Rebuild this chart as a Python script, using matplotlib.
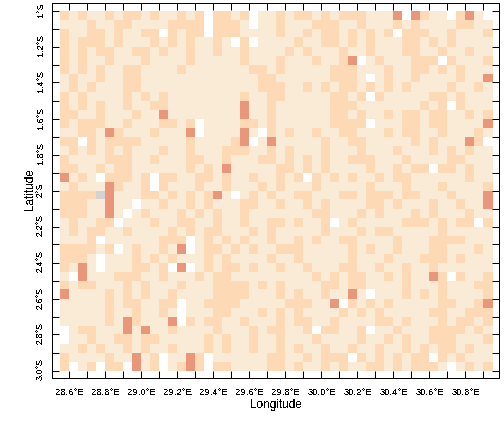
import numpy as np
import matplotlib
matplotlib.use("Agg")
import matplotlib.pyplot as plt
from matplotlib.colors import ListedColormap, BoundaryNorm
from matplotlib.ticker import FixedLocator
from matplotlib.transforms import ScaledTranslation

# class codes: 0 white, 1 light, 2 peach, 3 salmon, 4 grey (no data)
rows = [
"2 1 2 1 1 2 1 2 2 1 2 1 1 2 1 2 0 2 2 1 2 0 1 1 2 1 2 2 1 2 1 2 2 2 1 1 1 3 0 3 2 1 1 0 2 3 1 0",
"1 1 1 2 1 1 2 2 1 1 1 1 2 2 2 2 0 2 2 2 1 0 1 1 2 1 1 1 2 2 2 1 1 2 1 1 1 2 1 2 1 1 1 1 2 2 1 1",
"2 1 1 2 2 1 2 1 1 2 2 0 2 1 2 2 0 2 2 2 1 1 1 1 2 1 1 2 1 2 2 1 2 1 2 1 2 0 2 2 2 1 1 2 1 1 1 2",
"2 1 2 2 2 1 2 1 1 1 2 1 2 1 2 1 1 2 1 0 2 0 1 1 1 1 2 1 1 2 2 1 2 1 2 1 1 1 2 2 1 2 1 2 1 1 1 1",
"2 1 2 1 2 2 1 1 2 2 1 2 1 1 2 1 1 2 1 1 2 1 1 1 1 2 1 2 1 1 1 2 1 1 2 1 1 1 2 2 1 1 2 1 1 2 1 1",
"2 1 2 1 1 2 1 1 1 2 1 1 1 1 2 1 1 1 1 1 2 1 1 1 2 1 1 1 2 1 1 2 3 0 1 2 1 1 1 2 2 2 0 2 1 1 1 2",
"2 1 2 1 2 1 1 2 2 1 1 1 1 2 1 1 1 1 1 1 1 2 2 1 2 1 1 1 1 1 2 2 2 1 1 1 2 1 1 2 2 1 2 1 2 1 1 1",
"1 2 1 1 2 1 1 2 2 1 1 1 1 1 1 1 1 1 1 1 1 1 2 2 1 1 1 1 1 1 2 2 2 1 0 1 2 1 1 2 1 1 1 1 2 1 1 3",
"1 2 1 2 1 1 1 2 2 1 1 1 1 1 1 1 1 1 1 1 1 1 2 2 2 1 1 2 1 2 1 2 2 1 2 1 2 1 2 1 1 1 1 2 1 1 2 1",
"2 1 2 1 1 1 1 2 1 2 1 2 1 1 1 1 1 1 1 1 2 1 1 2 2 1 1 1 1 1 2 2 1 2 0 2 1 1 1 1 1 2 2 1 2 1 1 1",
"2 1 2 1 2 1 1 2 1 1 2 2 1 1 1 1 1 1 1 1 3 1 1 2 1 1 1 1 1 1 2 2 2 1 1 1 1 1 1 1 2 1 2 0 2 1 1 1",
"2 2 1 1 2 1 1 1 2 1 1 3 1 1 1 1 1 1 1 1 3 1 1 2 1 1 1 1 1 1 2 2 1 2 1 1 2 1 2 2 1 2 2 1 1 2 1 2",
"2 1 2 2 2 1 1 2 1 1 1 2 2 1 2 0 1 1 1 1 2 2 1 2 1 1 1 1 1 1 2 2 2 2 0 1 1 1 2 2 1 2 2 1 1 1 1 3",
"1 1 2 2 1 3 2 1 1 1 2 1 1 1 3 0 1 1 1 1 3 1 0 2 1 2 1 1 2 1 1 2 2 1 1 1 2 1 2 2 1 1 2 1 1 1 2 1",
"2 2 0 2 1 2 2 2 2 1 1 1 1 1 2 1 1 1 1 2 3 0 1 3 1 1 1 1 1 2 1 1 2 2 1 1 1 1 1 2 1 2 1 1 1 3 2 0",
"1 2 1 2 1 2 1 2 1 1 1 2 1 1 2 1 1 1 2 2 2 1 1 2 1 2 1 1 1 2 1 1 1 2 1 1 1 2 1 1 1 2 1 2 1 2 1 1",
"2 1 1 1 1 2 2 2 1 1 2 1 1 1 2 2 1 1 2 1 1 1 2 2 1 2 1 2 1 2 1 1 2 2 2 1 1 1 2 1 1 1 1 2 2 1 1 1",
"2 2 1 1 2 1 2 2 1 1 1 1 1 1 2 1 2 1 3 1 1 1 1 1 2 2 1 2 1 2 1 1 1 1 2 1 1 2 1 2 2 0 2 2 1 2 1 1",
"3 1 2 1 0 2 2 2 1 2 0 2 2 1 1 2 2 1 2 1 1 2 1 1 2 1 2 0 2 1 2 1 2 1 1 2 1 2 2 1 1 1 1 1 1 2 1 1",
"1 2 1 1 1 3 2 1 1 2 0 2 1 1 1 2 1 1 2 1 1 1 2 1 2 1 1 1 2 1 1 1 1 1 2 1 1 1 2 1 1 1 2 1 1 1 1 2",
"2 2 2 2 4 3 1 1 1 2 2 1 2 1 2 1 2 3 1 0 1 2 1 2 1 1 2 2 1 1 1 2 2 1 2 2 2 1 2 2 1 1 1 2 1 1 1 3",
"2 2 2 1 1 3 1 1 0 1 1 2 1 1 2 1 2 1 1 1 2 2 1 1 2 1 1 2 1 2 1 1 1 1 2 2 1 2 1 1 1 2 1 1 2 1 1 3",
"2 2 2 1 1 3 1 0 1 2 1 1 1 2 1 2 1 2 1 1 2 1 1 1 1 1 1 1 2 2 1 1 1 2 1 2 1 1 1 2 1 2 1 1 1 2 1 1",
"1 2 1 1 2 2 0 1 1 1 2 1 1 2 2 1 1 2 1 1 2 1 1 2 2 1 2 1 1 2 0 1 2 1 1 1 1 1 2 2 2 1 2 1 2 2 0 2",
"1 2 1 2 2 1 1 2 1 1 1 1 2 1 2 1 2 2 1 1 1 2 1 2 1 1 1 1 1 2 1 1 1 2 1 2 2 1 1 1 1 1 2 1 1 1 1 1",
"1 1 1 2 0 1 1 1 1 1 1 2 2 2 0 1 2 1 2 1 2 1 1 2 1 1 2 1 2 1 1 2 2 1 1 1 1 2 1 1 1 2 2 2 2 1 1 1",
"2 2 2 2 1 2 0 1 2 1 1 2 1 3 0 1 2 2 1 2 1 2 1 1 2 2 2 1 1 1 1 1 2 1 2 1 1 2 1 1 1 2 2 1 1 1 2 1",
"2 2 2 1 0 1 1 1 2 1 2 1 2 1 1 1 2 1 2 1 1 1 1 2 1 1 2 1 1 1 1 1 2 1 1 1 2 1 1 1 2 2 2 1 2 1 1 1",
"2 1 3 1 0 1 1 1 2 2 1 2 0 3 0 1 2 1 2 2 1 2 1 1 2 1 1 2 1 1 1 2 2 1 1 2 1 1 2 1 1 2 1 1 1 1 1 1",
"1 0 3 1 1 1 2 2 2 1 1 2 1 1 1 2 1 2 2 1 1 1 1 1 1 1 1 1 2 1 2 1 2 2 1 1 2 1 2 1 1 3 2 0 2 1 1 2",
"2 1 2 2 1 1 1 2 1 2 1 1 1 2 1 1 1 2 2 2 2 1 2 1 2 1 1 1 1 2 2 1 2 2 1 1 1 1 2 1 1 1 2 1 1 1 2 2",
"3 1 1 1 1 2 1 2 1 2 1 1 2 1 1 1 1 2 2 2 2 1 1 1 2 1 2 1 1 2 1 1 3 1 0 1 1 1 2 1 2 1 2 1 1 1 1 2",
"1 1 1 1 1 2 1 2 2 1 1 2 2 0 1 1 2 2 2 2 1 1 1 1 1 2 2 2 1 1 3 0 2 1 2 1 2 1 1 1 1 1 2 2 1 1 2 3",
"1 1 1 1 1 2 1 1 2 1 1 2 1 0 1 1 1 2 2 1 1 1 2 1 2 1 2 1 1 1 1 2 1 2 1 2 1 1 1 1 1 2 2 1 1 2 2 2",
"1 1 1 1 1 2 1 3 2 1 1 1 3 0 2 1 2 2 1 1 2 1 1 1 2 1 2 2 1 1 2 1 1 1 1 2 2 1 2 1 1 1 2 1 2 2 1 2",
"0 1 2 2 1 1 1 3 1 3 1 1 2 1 1 1 1 2 1 1 1 2 1 2 2 1 1 2 0 2 2 1 1 2 0 1 1 2 1 1 1 2 2 2 2 1 2 1",
"0 1 1 2 1 1 2 2 1 2 2 1 1 1 1 1 2 1 2 1 1 2 1 1 2 1 1 1 2 1 1 1 1 2 1 1 2 1 2 1 1 2 2 2 1 1 1 2",
"1 1 2 1 2 1 1 2 1 2 1 1 2 1 1 1 2 1 2 1 1 2 1 1 2 1 2 1 1 2 1 1 2 1 1 2 1 1 2 1 2 1 2 2 1 2 1 1",
"2 1 1 1 1 2 1 1 3 1 2 0 1 1 3 2 0 1 1 1 1 1 1 2 2 1 1 2 1 2 2 2 0 2 1 2 1 2 1 2 2 0 2 1 2 1 1 1",
"2 0 1 2 0 2 2 0 3 1 2 0 1 2 3 2 0 2 2 1 1 1 1 2 2 1 2 1 1 2 1 2 1 1 2 2 1 2 1 2 2 2 1 0 1 2 1 2",
]
lon_edges = np.arange(49) * 0.05 + 28.55
lat_edges = -1.0 - np.arange(41) * 0.05
x_major = [28.6, 28.8, 29.0, 29.2, 29.4, 29.6, 29.8, 30.0, 30.2, 30.4, 30.6, 30.8]
x_minor = [28.7, 28.9, 29.1, 29.3, 29.5, 29.7, 29.9, 30.1, 30.3, 30.5, 30.7, 30.9]
y_major = [-1.0, -1.2, -1.4, -1.6, -1.8, -2.0, -2.2, -2.4, -2.6, -2.8, -3.0]
y_minor = [-1.1, -1.3, -1.5, -1.7, -1.9, -2.1, -2.3, -2.5, -2.7, -2.9]
x_labels = ["28.6°E", "28.8°E", "29.0°E", "29.2°E", "29.4°E", "29.6°E", "29.8°E", "30.0°E", "30.2°E", "30.4°E", "30.6°E", "30.8°E"]
y_labels = ["1°S", "1.2°S", "1.4°S", "1.6°S", "1.8°S", "2°S", "2.2°S", "2.4°S", "2.6°S", "2.8°S", "3.0°S"]
colors = ["#FFFFFF", "#FAEBD7", "#FDD9B5", "#E9967A", "#D3D3D3"]

plt.rcParams["font.family"] = ["Liberation Sans", "DejaVu Sans"]
plt.rcParams["text.antialiased"] = False

grid = np.array([[int(v) for v in r.split()] for r in rows])
W, H = 504, 431
fig = plt.figure(figsize=(W / 100, H / 100), dpi=100)
L, R, T, B = 52.0, 499.5, 3.5, 378.5
ax = fig.add_axes([L / W, 1 - B / H, (R - L) / W, (B - T) / H])
ax.pcolormesh(lon_edges, lat_edges, grid, cmap=ListedColormap(colors),
              norm=BoundaryNorm(np.arange(-0.5, 5.5), 5), antialiased=False, linewidth=0)
ax.set_xlim(28.6 - (69.5 - L) / 180, 28.6 + (R - 69.5) / 180)
ax.set_ylim(-1.0 - (B - 11.5) / 180, -1.0 + (11.5 - T) / 180)

ax.xaxis.set_major_locator(FixedLocator(x_major))
ax.xaxis.set_minor_locator(FixedLocator(x_minor))
ax.yaxis.set_major_locator(FixedLocator(y_major))
ax.yaxis.set_minor_locator(FixedLocator(y_minor))
ax.set_xticklabels(x_labels, fontsize=6.8)
ax.set_yticklabels(y_labels, fontsize=6.5, rotation=90, va="center")
ax.tick_params(which="both", direction="in", length=5.0, width=0.72,
               top=True, right=True, color="black")
ax.tick_params(axis="x", which="major", pad=7)
ax.tick_params(axis="y", which="major", pad=5.0)
shift_up = ScaledTranslation(0, 2 / 100, fig.dpi_scale_trans)
for lab in ax.get_yticklabels():
    lab.set_transform(lab.get_transform() + shift_up)
for s in ax.spines.values():
    s.set_linewidth(0.72)
ax.set_xlabel("Longitude", fontsize=8.5, labelpad=1.5)
ax.set_ylabel("Latitude", fontsize=8.5)
ax.yaxis.set_label_coords((36.0 - L) / (R - L), 0.5 + 2 / (B - T))
fig.savefig("out.png", dpi=100)
